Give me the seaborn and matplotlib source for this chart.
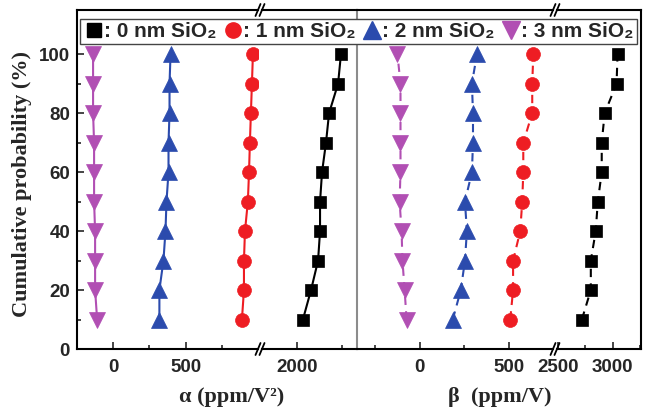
import pandas as pd
import matplotlib
matplotlib.use("Agg")
from matplotlib import pyplot as plt
from matplotlib.lines import Line2D
from matplotlib.ticker import FixedLocator
import seaborn as sns

prob = [10, 20, 30, 40, 50, 60, 70, 80, 90, 100]
films = ["0 nm", "1 nm", "2 nm", "3 nm"]

# alpha (ppm/V^2), left panel
alpha_0nm = [2033, 2078, 2117, 2128, 2128, 2139, 2161, 2178, 2228, 2244]
alpha_1nm = [889, 903, 903, 910, 930, 938, 944, 951, 958, 965]
alpha_2nm = [319, 319, 347, 361, 368, 382, 382, 389, 389, 396]
alpha_3nm = [-111, -125, -125, -125, -132, -132, -132, -139, -139, -139]

# beta (ppm/V), right panel
beta_0nm = [2718, 2800, 2800, 2845, 2864, 2900, 2900, 2927, 3036, 3045]
beta_1nm = [506, 522, 522, 562, 573, 579, 579, 629, 629, 635]
beta_2nm = [185, 230, 253, 264, 253, 292, 298, 298, 292, 320]
beta_3nm = [-73, -84, -96, -101, -112, -107, -107, -107, -107, -124]

colors = {"0 nm": "#000000", "1 nm": "#EE1D23", "2 nm": "#2B4BAD", "3 nm": "#B14FB3"}
markers = {"0 nm": "s", "1 nm": "o", "2 nm": "^", "3 nm": "v"}
msizes = {"0 nm": 8.5, "1 nm": 10, "2 nm": 11.5, "3 nm": 11.5}

rows = []
for f, a, b in zip(films, [alpha_0nm, alpha_1nm, alpha_2nm, alpha_3nm],
                   [beta_0nm, beta_1nm, beta_2nm, beta_3nm]):
    for p, av, bv in zip(prob, a, b):
        rows.append({"film": f, "prob": p, "alpha": av, "beta": bv})
df = pd.DataFrame(rows)

sns.set_style("ticks")
plt.rcParams["font.family"] = ["Liberation Sans", "DejaVu Sans"]
plt.rcParams["font.weight"] = "bold"
plt.rcParams["font.size"] = 13.5
plt.rcParams["axes.linewidth"] = 1.5

W, H = 651, 413
fig = plt.figure(figsize=(W / 100, H / 100), dpi=100)
top_px, bot_px = 10, 349


def px_axes(x0, x1):
    return fig.add_axes([x0 / W, 1 - bot_px / H, (x1 - x0) / W, (bot_px - top_px) / H])


axL1 = px_axes(77, 258)
axL2 = px_axes(262, 357)
axR1 = px_axes(357, 553)
axR2 = px_axes(557, 641)

panels = [(axL1, "alpha", "-"), (axL2, "alpha", "-"),
          (axR1, "beta", (0, (4, 3))), (axR2, "beta", (0, (4, 3)))]
for ax, col, ls in panels:
    for f in films:
        sub = df[df.film == f]
        sns.lineplot(data=sub, x=col, y="prob", sort=False, estimator=None,
                     color=colors[f], marker=markers[f], markersize=msizes[f],
                     markeredgecolor=colors[f], markeredgewidth=0.5,
                     linewidth=1.5, linestyle=ls, ax=ax)
    ax.set_ylim(0, 115)
    ax.set_xlabel("")
    ax.set_ylabel("")
    ax.tick_params(which="both", direction="in", width=1.2, labelsize=13.5, pad=7)
    ax.tick_params(which="major", length=5)
    ax.tick_params(which="minor", length=3)
    for sp in ax.spines.values():
        sp.set_linewidth(1.5)
        sp.set_color("black")

axL1.set_xlim(-250, 1000)
axL1.xaxis.set_major_locator(FixedLocator([0, 500]))
axL1.xaxis.set_minor_locator(FixedLocator([250, 750]))
axL2.set_xlim(1806, 2333)
axL2.xaxis.set_major_locator(FixedLocator([2000]))
axL2.xaxis.set_minor_locator(FixedLocator([2250]))
axR1.set_xlim(-350, 745)
axR1.xaxis.set_major_locator(FixedLocator([0, 500]))
axR1.xaxis.set_minor_locator(FixedLocator([-250, 250]))
axR2.set_xlim(2490, 3260)
axR2.xaxis.set_major_locator(FixedLocator([2500, 3000]))
axR2.xaxis.set_minor_locator(FixedLocator([2750, 3250]))

axL1.set_yticks([0, 20, 40, 60, 80, 100])
axL1.yaxis.set_minor_locator(FixedLocator([10, 30, 50, 70, 90]))
axL1.tick_params(axis="y", pad=5)
axL1.spines["right"].set_visible(False)
axL2.spines["left"].set_visible(False)
axL2.spines["right"].set_visible(False)
axR1.spines["right"].set_visible(False)
axR1.spines["left"].set_color("#8C8C8C")
axR2.spines["left"].set_visible(False)
for ax in (axL2, axR1, axR2):
    ax.tick_params(axis="y", which="both", left=False, labelleft=False)

# break marks
for xb in (258, 262, 553, 557):
    for yb in (top_px, bot_px):
        fig.add_artist(Line2D([(xb - 2.5) / W, (xb + 2.5) / W],
                              [1 - (yb + 6) / H, 1 - (yb - 6) / H],
                              transform=fig.transFigure, color="black", lw=1.3))

serif = ["Liberation Serif", "DejaVu Serif"]
fig.text(22 / W, 1 - 184 / H, "Cumulative probability (%)", rotation=90,
         ha="center", va="center", family=serif, weight="bold", fontsize=16)
fig.text(232 / W, 1 - 397 / H, "α (ppm/V²)", ha="center", va="center",
         family=serif, weight="bold", fontsize=16)
fig.text(500 / W, 1 - 397 / H, "β  (ppm/V)", ha="center", va="center",
         family=serif, weight="bold", fontsize=16)

handles = [Line2D([], [], linestyle="none", marker=markers[f], color=colors[f],
                  markersize=msizes[f] + 1) for f in films]
labels = [": %s SiO₂" % f for f in films]
leg = fig.legend(handles, labels, loc="lower left", ncol=4, mode="expand",
                 bbox_to_anchor=(80 / W, 1 - 44 / H, 557 / W, 27 / H),
                 borderaxespad=0, borderpad=0.15, handletextpad=0.0,
                 handlelength=1.0, columnspacing=0.4, fancybox=False,
                 edgecolor="#444444", framealpha=1,
                 prop={"family": ["Liberation Sans", "DejaVu Sans"],
                       "weight": "bold", "size": 15})
leg.get_frame().set_linewidth(1.0)

plt.savefig("out.png", dpi=100)
